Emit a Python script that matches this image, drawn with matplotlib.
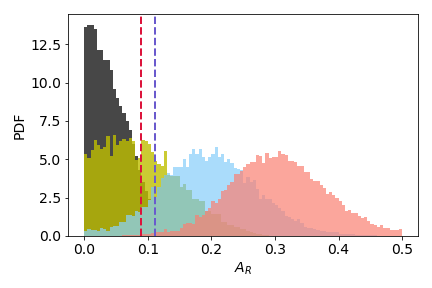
import numpy as np
import matplotlib
matplotlib.use("Agg")
import matplotlib.pyplot as plt

# histogram heights (PDF), bin width 0.005
bin_width = 0.005

dark_start = 0.0
dark = [13.65, 13.76, 13.76, 13.5, 12.1, 12.15, 11.5, 11.5, 10.8, 9.6,
        9.0, 8.5, 8.0, 7.5, 6.9, 6.0, 5.2, 4.3, 3.5, 2.9,
        2.4, 1.5, 0.8, 0.3]

olive_start = 0.0
olive = [5.35, 5.07, 5.61, 6.26, 5.94, 5.68, 5.83, 6.52, 5.22, 6.55,
         5.9, 6.2, 6.3, 6.2, 6.4, 6.2, 4.96, 5.07, 6.26, 6.2,
         6.0, 5.5, 4.91, 4.70, 4.57, 5.55, 2.5, 1.5, 0.8, 0.3]

teal_start = 0.0
teal = [0.35, 0.46, 0.39, 0.39, 0.33, 0.54, 0.46, 0.33, 0.61, 0.67,
        0.65, 0.93, 0.93, 1.37, 1.37, 1.3, 1.65, 1.54, 1.91, 1.91,
        2.35, 3.2, 2.52, 3.2, 3.8, 4.0, 4.0, 3.9, 3.91, 3.91,
        3.17, 3.39, 3.0, 3.0, 2.39, 2.39, 2.3, 2.3, 1.65, 1.59,
        1.43, 1.43, 1.43, 0.93, 0.93, 0.72, 0.72, 0.61, 0.61, 0.43,
        0.43, 0.35, 0.25, 0.2, 0.15, 0.1, 0.08, 0.05]

blue_start = 0.09
blue = [1.5, 1.5, 2.0, 2.5, 2.4, 3.0, 3.6, 3.9, 4.09, 3.95,
        4.48, 4.48, 4.48, 5.0, 4.48, 5.35, 5.65, 5.35, 5.67, 5.13,
        4.91, 5.13, 5.35, 5.78, 5.17, 5.35, 4.85, 5.0, 4.78, 4.41,
        4.35, 4.3, 3.48, 3.87, 3.54, 3.65, 3.05, 2.41, 2.67, 2.41,
        2.41, 2.17, 2.02, 1.85, 1.65, 1.3, 1.2, 1.09, 1.0, 1.11,
        0.83, 0.61, 0.54, 0.5, 0.43, 0.39, 0.35, 0.33, 0.22, 0.22,
        0.22, 0.22, 0.13, 0.13, 0.13, 0.13, 0.13, 0.07, 0.07, 0.07,
        0.07, 0.07, 0.03, 0.03, 0.02, 0.02, 0.02]

salmon_start = 0.06
salmon = [0.03, 0.03, 0.05, 0.03, 0.07, 0.07, 0.1, 0.13, 0.13, 0.2,
          0.28, 0.28, 0.28, 0.43, 0.28, 0.3, 0.3, 0.3, 0.5, 0.78,
          0.87, 0.87, 0.8, 1.37, 1.22, 1.37, 1.59, 1.85, 2.3, 2.17,
          2.43, 2.9, 3.0, 3.33, 3.54, 4.04, 4.04, 4.24, 4.48, 4.70,
          4.81, 4.81, 5.28, 5.24, 4.74, 5.39, 5.07, 5.13, 5.13, 5.54,
          5.35, 5.28, 4.89, 4.89, 4.81, 4.57, 4.57, 4.17, 4.17, 3.72,
          3.59, 3.59, 3.33, 3.11, 2.74, 2.87, 2.67, 2.46, 2.26, 2.0,
          1.65, 1.70, 1.50, 1.50, 1.28, 1.17, 1.24, 0.98, 0.78, 0.72,
          0.59, 0.72, 0.52, 0.52, 0.39, 0.39, 0.39, 0.46]

red_line = 0.09
blue_line = 0.111

plt.rcParams['font.size'] = 14

fig, ax = plt.subplots(figsize=(6, 4), dpi=72)
fig.subplots_adjust(left=0.158, right=0.968, bottom=0.181, top=0.950)


def draw(start, heights, **kw):
    left = start + bin_width * np.arange(len(heights))
    ax.bar(left, heights, width=bin_width, align='edge', linewidth=0, **kw)


draw(dark_start, dark, color='k', alpha=0.72)
draw(olive_start, olive, color='y', alpha=0.8)
draw(blue_start, blue, color='lightskyblue', alpha=0.7)
draw(teal_start, teal, color='#92c6b7')
draw(salmon_start, salmon, color='salmon', alpha=0.7)

ax.axvline(red_line, color='crimson', linestyle='--', linewidth=2)
ax.axvline(blue_line, color='slateblue', linestyle='--', linewidth=2)

ax.set_xlabel('$A_R$')
ax.set_ylabel('PDF')

fig.savefig('out.png', dpi=72)
